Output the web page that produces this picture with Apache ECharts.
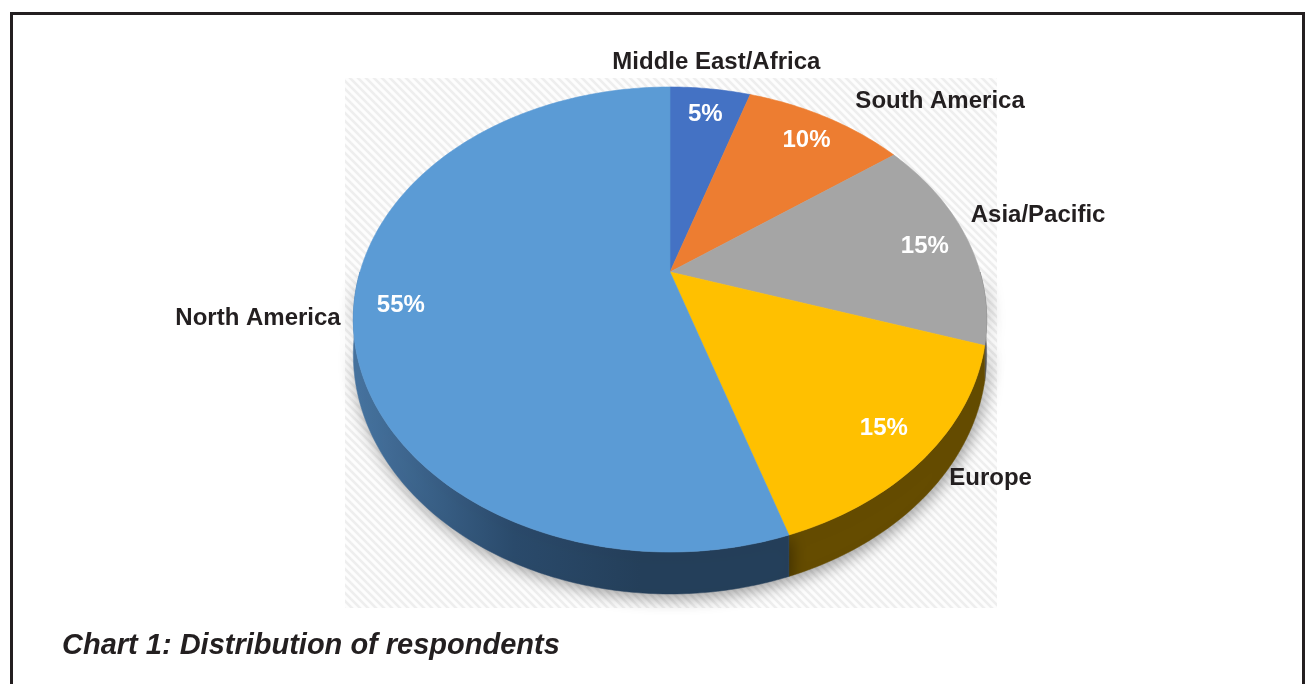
<!DOCTYPE html>
<html>
<head>
<meta charset="utf-8">
<script src="https://cdn.jsdelivr.net/npm/echarts@6/dist/echarts.min.js"></script>
<style>
  html, body { margin: 0; padding: 0; background: #ffffff; }
  #chart { width: 1306px; height: 684px; }
</style>
</head>
<body>
<div id="chart"></div>
<script>
// Respondents by region (percent)
const regions = ['Middle East/Africa', 'South America', 'Asia/Pacific', 'Europe', 'North America'];
const shares = [5, 10, 15, 15, 55];
const topColors = ['#4472c4', '#ed7d31', '#a5a5a5', '#ffc000', '#5b9bd5'];
const sideColors = ['#29457a', '#8f4a1c', '#636363', '#654c00', '#2c4d6e'];

// Tilted disk seen in perspective: centre of the disk, radii and depth factor
const GEO = { cx: 670, cy: 272, rx: 310, ry: 222.8, k: 0.2043, depth: 33.4 };

// Label layout: percent labels sit at a fraction of the radius on the mid angle,
// region names are placed off the rim point of the mid angle.
const PCT = { r: 0.855, dy: 3 };
const NAME_OFFSET = [[6, -27, 'center'], [29, -16, 'left'], [4, -23, 'left'], [23, 22, 'left'], [-13, 10, 'right']];
const LABEL_FONT = 'bold 24px "Liberation Sans", Arial, sans-serif';

const total = shares.reduce((a, b) => a + b, 0);
const startDeg = [];
(function () {
  let acc = 0;
  shares.forEach(s => { startDeg.push(acc / total * 360); acc += s; });
})();

// angle measured clockwise from 12 o'clock; r in [0,1]; h = drop below the top face
function project(deg, r, h) {
  const t = deg * Math.PI / 180;
  const u = r * Math.sin(t), v = -r * Math.cos(t);
  const w = 1 - GEO.k * v;
  return [GEO.cx + GEO.rx * u / w, GEO.cy + (GEO.ry * v + (h || 0)) / w];
}
function arc(a0, a1, r, h) {
  const pts = [];
  const n = Math.max(2, Math.ceil(Math.abs(a1 - a0)));
  for (let i = 0; i <= n; i++) pts.push(project(a0 + (a1 - a0) * i / n, r, h));
  return pts;
}
function sliceRange(idx, value) {
  const a0 = startDeg[idx];
  return [a0, a0 + value / total * 360];
}

// diagonal hatch tile for the plot backdrop
function hatchTile() {
  const s = 8;
  const c = document.createElement('canvas');
  c.width = s; c.height = s;
  const g = c.getContext('2d');
  g.fillStyle = '#fdfdfd';
  g.fillRect(0, 0, s, s);
  g.strokeStyle = '#eeeeee';
  g.lineWidth = 2.6;
  [-s, 0, s].forEach(off => {
    g.beginPath();
    g.moveTo(-2, -2 + off);
    g.lineTo(s + 2, s + 2 + off);
    g.stroke();
  });
  return c;
}

const chart = echarts.init(document.getElementById('chart'), null, { renderer: 'canvas' });
const seriesData = shares.map((v, i) => ({ name: regions[i], value: [i, v] }));

const sideGradient = new echarts.graphic.LinearGradient(360, 0, 640, 0, [
  { offset: 0, color: '#46739f' },
  { offset: 0.55, color: '#2a4a6b' },
  { offset: 1, color: '#243f5a' }
], true);

const option = {
  animation: false,
  backgroundColor: '#ffffff',
  graphic: [
    {
      type: 'rect', z: 0,
      shape: { x: 345, y: 78, width: 652, height: 530 },
      style: { fill: { image: hatchTile(), repeat: 'repeat' } }
    },
    {
      type: 'rect', z: 10,
      shape: { x: 11.5, y: 13.5, width: 1292, height: 700 },
      style: { fill: 'none', stroke: '#231f20', lineWidth: 3 }
    },
    {
      type: 'text', z: 10,
      x: 62, y: 646,
      style: {
        text: 'Chart 1: Distribution of respondents',
        font: 'italic bold 29px "Liberation Sans", Arial, sans-serif',
        fill: '#231f20',
        align: 'left', verticalAlign: 'middle'
      }
    }
  ],
  series: [
    {
      // extruded rim of the front half
      type: 'custom', coordinateSystem: 'none', z: 3, silent: true,
      data: seriesData,
      renderItem: function (params, api) {
        const idx = api.value(0);
        const [a0, a1] = sliceRange(idx, api.value(1));
        const c0 = Math.max(a0, 90), c1 = Math.min(a1, 270);
        if (c1 <= c0) return null;
        const top = arc(c0, c1, 1, 0);
        const bottom = arc(c0, c1, 1, GEO.depth).reverse();
        const fill = idx === 4 ? sideGradient : sideColors[idx];
        return {
          type: 'polygon',
          shape: { points: top.concat(bottom) },
          style: {
            fill: fill, stroke: fill, lineWidth: 0.5,
            shadowBlur: 16, shadowColor: 'rgba(0,0,0,0.38)',
            shadowOffsetX: 2, shadowOffsetY: 4
          }
        };
      }
    },
    {
      // top faces
      type: 'custom', coordinateSystem: 'none', z: 4, silent: true,
      data: seriesData,
      renderItem: function (params, api) {
        const idx = api.value(0);
        const [a0, a1] = sliceRange(idx, api.value(1));
        const pts = [project(0, 0, 0)].concat(arc(a0, a1, 1, 0));
        return {
          type: 'polygon',
          shape: { points: pts },
          style: { fill: topColors[idx], stroke: topColors[idx], lineWidth: 0.6 }
        };
      }
    },
    {
      // percent and region labels
      type: 'custom', coordinateSystem: 'none', z: 5, silent: true,
      data: seriesData,
      renderItem: function (params, api) {
        const idx = api.value(0);
        const val = api.value(1);
        const [a0, a1] = sliceRange(idx, val);
        const mid = (a0 + a1) / 2;
        const p = project(mid, PCT.r, 0);
        const rim = project(mid, 1, 0);
        const off = NAME_OFFSET[idx];
        return {
          type: 'group',
          children: [
            {
              type: 'text', x: p[0], y: p[1] + PCT.dy,
              style: {
                text: Math.round(val / total * 100) + '%',
                font: LABEL_FONT,
                fill: '#ffffff', align: 'center', verticalAlign: 'middle'
              }
            },
            {
              type: 'text', x: rim[0] + off[0], y: rim[1] + off[1],
              style: {
                text: regions[idx],
                font: LABEL_FONT,
                fill: '#231f20', align: off[2], verticalAlign: 'middle'
              }
            }
          ]
        };
      }
    }
  ]
};
chart.setOption(option);
</script>
</body>
</html>
